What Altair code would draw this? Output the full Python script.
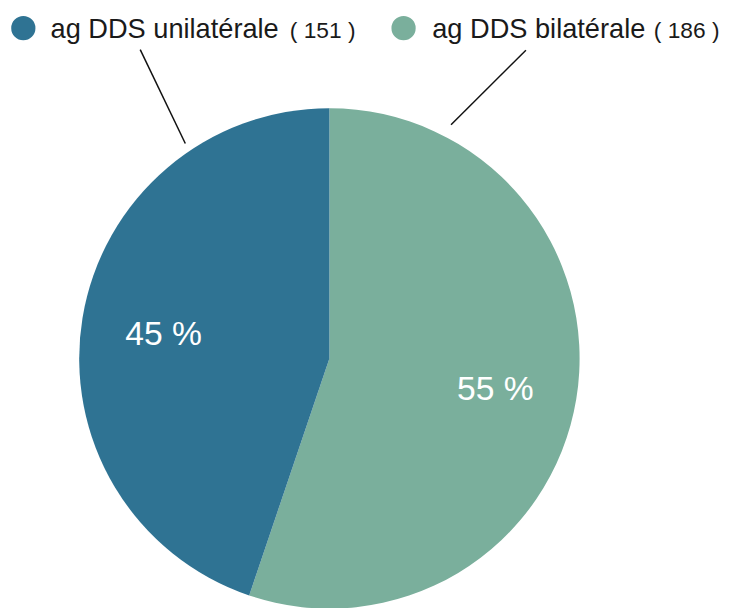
import altair as alt
import pandas as pd

# ---- data ----
categories = ["ag DDS bilatérale", "ag DDS unilatérale"]
counts = [186, 151]
colors = ["#7aaf9c", "#2f7393"]
legend_order = ["ag DDS unilatérale", "ag DDS bilatérale"]
legend_counts = [151, 186]

total = sum(counts)
pie_df = pd.DataFrame({
    "category": categories,
    "count": counts,
    "order": list(range(len(categories))),
    "label": [f"{round(c / total * 100)} %" for c in counts],
})

FONT = "Liberation Sans"
CX, CY, R = 325, 351, 253

color_scale = alt.Scale(domain=categories, range=colors)

base = alt.Chart(pie_df).encode(
    theta=alt.Theta("count:Q", stack=True),
    order=alt.Order("order:Q"),
    x=alt.value(CX),
    y=alt.value(CY),
)

arcs = base.mark_arc(radius=R, strokeWidth=0).encode(
    color=alt.Color("category:N", scale=color_scale, legend=None)
)

pct = base.mark_text(radius=170, fontSize=34, font=FONT, color="white", dy=4).encode(
    text="label:N"
)

layers = [arcs, pct]

# legend items (manual, at top)
legend_pos = [(15.5, 43, 285), (400, 429, 653)]
for (cx, tx, nx), name, n in zip(legend_pos, legend_order, legend_counts):
    d = pd.DataFrame({"category": [name], "count_label": [f"( {n} )"]})
    c = alt.Chart(d)
    layers.append(
        c.mark_point(filled=True, shape="circle", size=600, opacity=1).encode(
            x=alt.value(cx), y=alt.value(17),
            color=alt.Color("category:N", scale=color_scale, legend=None),
        )
    )
    layers.append(
        c.mark_text(align="left", baseline="alphabetic", fontSize=27.5, font=FONT,
                    color="#1a1a1a").encode(
            x=alt.value(tx), y=alt.value(27), text="category:N"
        )
    )
    layers.append(
        c.mark_text(align="left", baseline="alphabetic", fontSize=23, font=FONT,
                    color="#1a1a1a").encode(
            x=alt.value(nx), y=alt.value(26.5), text="count_label:N"
        )
    )

# leader lines from legend to pie
lines = [((133.7, 38.7), (179.3, 133.7)), ((523.7, 39.3), (448, 114.7))]
for (x1, y1), (x2, y2) in lines:
    layers.append(
        alt.Chart(pd.DataFrame({"a": [0]})).mark_rule(color="#111", strokeWidth=1.5).encode(
            x=alt.value(x1), y=alt.value(y1), x2=alt.value(x2), y2=alt.value(y2)
        )
    )

chart = alt.layer(*layers).properties(
    width=722, height=600,
    autosize=alt.AutoSizeParams(type="none"),
    padding=0,
    background="white",
).configure_view(stroke=None)

chart.save("out.html", embed_options={"renderer": "svg", "actions": False})
